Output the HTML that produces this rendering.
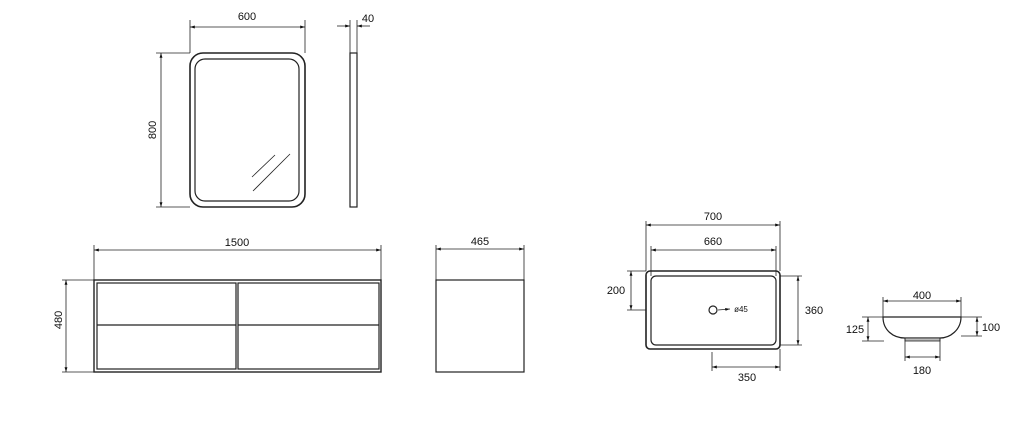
<!DOCTYPE html>
<html><head><meta charset="utf-8"><style>
html,body{margin:0;padding:0;background:#fff;}
svg{display:block;}
text{font-family:"Liberation Sans",sans-serif;font-size:11px;fill:#111;}
</style></head><body>
<svg width="1024" height="425" viewBox="0 0 1024 425" xmlns="http://www.w3.org/2000/svg">
<defs>
<marker id="a" viewBox="0 0 10 10" refX="10" refY="5" markerWidth="6" markerHeight="6" orient="auto-start-reverse"><path d="M0,2 L10,5 L0,8 z" fill="#111"/></marker>
</defs>
<g stroke="#222" fill="none" stroke-width="0.8">
<!-- Mirror -->
<rect x="190" y="53" width="115" height="154" rx="13" stroke-width="1.6"/>
<rect x="195" y="59" width="104" height="142" rx="10" stroke-width="1.2"/>
<line x1="252" y1="177" x2="275" y2="155"/>
<line x1="253" y1="191" x2="290" y2="154"/>
<line x1="190" y1="20" x2="190" y2="53"/><line x1="305" y1="20" x2="305" y2="53"/>
<line x1="190" y1="27" x2="305" y2="27" marker-start="url(#a)" marker-end="url(#a)"/>
<line x1="156" y1="53" x2="190" y2="53"/><line x1="156" y1="207" x2="190" y2="207"/>
<line x1="161" y1="53" x2="161" y2="207" marker-start="url(#a)" marker-end="url(#a)"/>
<!-- Mirror side -->
<rect x="350" y="53" width="7" height="154" stroke-width="1.2"/>
<line x1="350" y1="20" x2="350" y2="53"/><line x1="357" y1="20" x2="357" y2="53"/>
<line x1="337" y1="26" x2="350" y2="26" marker-end="url(#a)"/>
<line x1="370" y1="26" x2="357" y2="26" marker-end="url(#a)"/>
<!-- Cabinet -->
<rect x="94" y="280" width="287" height="92" stroke-width="1.4"/>
<rect x="97" y="283" width="139" height="86" stroke-width="1.2"/>
<rect x="238" y="283" width="141" height="86" stroke-width="1.2"/>
<line x1="97" y1="325" x2="236" y2="325" stroke-width="1.2"/>
<line x1="238" y1="325" x2="379" y2="325" stroke-width="1.2"/>
<line x1="94" y1="245" x2="94" y2="280"/><line x1="381" y1="245" x2="381" y2="280"/>
<line x1="94" y1="250" x2="381" y2="250" marker-start="url(#a)" marker-end="url(#a)"/>
<line x1="62" y1="280" x2="94" y2="280"/><line x1="62" y1="372" x2="94" y2="372"/>
<line x1="66" y1="280" x2="66" y2="372" marker-start="url(#a)" marker-end="url(#a)"/>
<!-- Cabinet side -->
<rect x="436" y="280" width="88" height="92" stroke-width="1.2"/>
<line x1="436" y1="245" x2="436" y2="280"/><line x1="524" y1="245" x2="524" y2="280"/>
<line x1="436" y1="249" x2="524" y2="249" marker-start="url(#a)" marker-end="url(#a)"/>
<!-- Basin top -->
<rect x="646" y="271" width="134" height="78" rx="4" stroke-width="1.6"/>
<rect x="651" y="276" width="125" height="69" rx="5" stroke-width="1.2"/>
<circle cx="713" cy="310" r="4" stroke-width="1.2"/>
<line x1="718" y1="310" x2="730" y2="309" marker-end="url(#a)"/>
<line x1="646" y1="221" x2="646" y2="271"/><line x1="780" y1="221" x2="780" y2="271"/>
<line x1="646" y1="225" x2="780" y2="225" marker-start="url(#a)" marker-end="url(#a)"/>
<line x1="651" y1="246" x2="651" y2="276"/><line x1="776" y1="246" x2="776" y2="276"/>
<line x1="651" y1="250" x2="776" y2="250" marker-start="url(#a)" marker-end="url(#a)"/>
<line x1="627" y1="271" x2="646" y2="271"/><line x1="627" y1="310" x2="646" y2="310"/>
<line x1="631" y1="271" x2="631" y2="310" marker-start="url(#a)" marker-end="url(#a)"/>
<line x1="780" y1="276" x2="802" y2="276"/><line x1="780" y1="345" x2="802" y2="345"/>
<line x1="798" y1="276" x2="798" y2="345" marker-start="url(#a)" marker-end="url(#a)"/>
<line x1="712" y1="352" x2="712" y2="371"/><line x1="780" y1="349" x2="780" y2="371"/>
<line x1="712" y1="367" x2="780" y2="367" marker-start="url(#a)" marker-end="url(#a)"/>
<!-- Bowl -->
<path d="M883,317 L961,317 C961,330 950,338 940,338 L905,338 C893,338 883,330 883,317 Z" stroke-width="1.2"/>
<rect x="905" y="338" width="35" height="3" fill="#bbb" stroke-width="0.8"/>
<line x1="883" y1="297" x2="883" y2="317"/><line x1="961" y1="297" x2="961" y2="317"/>
<line x1="883" y1="301" x2="961" y2="301" marker-start="url(#a)" marker-end="url(#a)"/>
<line x1="862" y1="317" x2="883" y2="317"/><line x1="862" y1="341" x2="884" y2="341"/>
<line x1="868" y1="317" x2="868" y2="341" marker-start="url(#a)" marker-end="url(#a)"/>
<line x1="961" y1="317" x2="982" y2="317"/><line x1="961" y1="336" x2="982" y2="336"/>
<line x1="977" y1="317" x2="977" y2="336" marker-start="url(#a)" marker-end="url(#a)"/>
<line x1="905" y1="338" x2="905" y2="361"/><line x1="940" y1="338" x2="940" y2="361"/>
<line x1="905" y1="357" x2="940" y2="357" marker-start="url(#a)" marker-end="url(#a)"/>
</g>
<g text-anchor="middle">
<text x="247" y="20">600</text>
<text x="368" y="22">40</text>
<text transform="translate(156,130) rotate(-90)">800</text>
<text x="237" y="246">1500</text>
<text x="480" y="245">465</text>
<text transform="translate(62,320) rotate(-90)">480</text>
<text x="713" y="220">700</text>
<text x="713" y="245">660</text>
<text x="616" y="294">200</text>
<text x="814" y="314">360</text>
<text x="747" y="381">350</text>
<text x="922" y="299">400</text>
<text x="855" y="333">125</text>
<text x="991" y="331">100</text>
<text x="922" y="374">180</text>
<text x="741" y="312" style="font-size:8px">ø45</text>
</g>
</svg>
</body></html>
